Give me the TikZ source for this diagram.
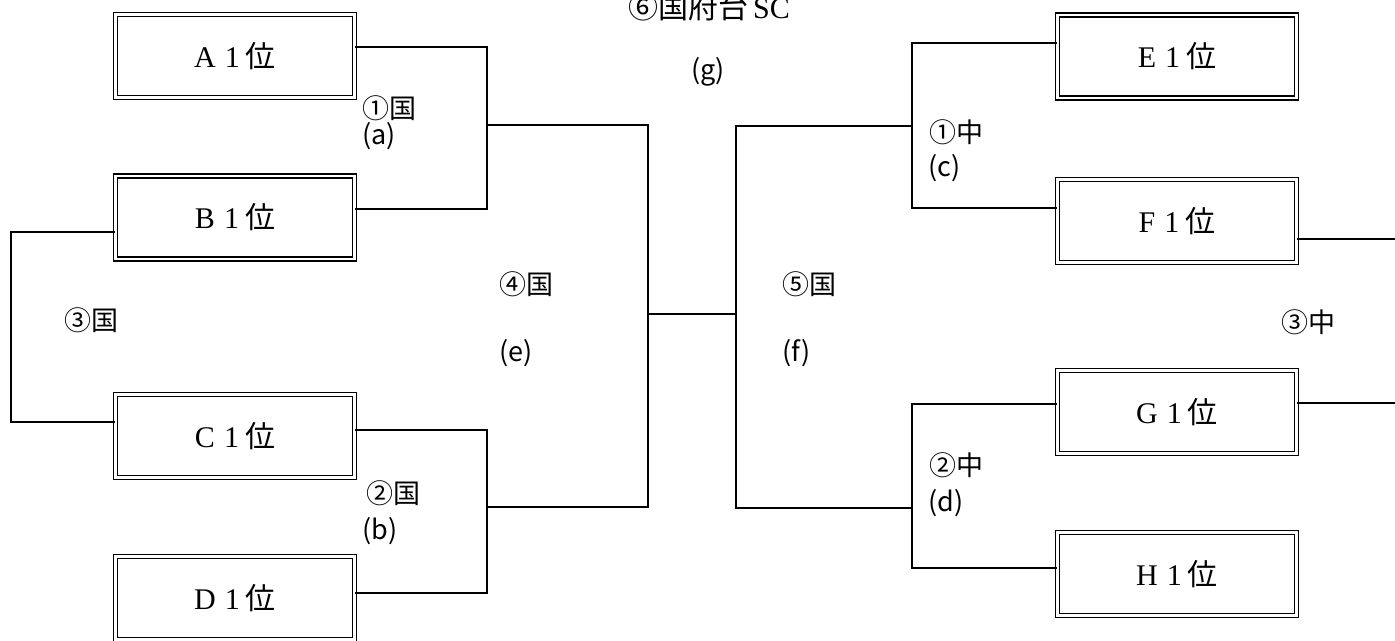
\documentclass[tikz,border=0pt]{standalone}
\usepackage{fontspec}
\setmainfont{Liberation Serif}
\newfontfamily\jp{Noto Sans CJK JP}
\begin{document}
\begin{tikzpicture}[x=1pt,y=-1pt,
  team/.style={draw, line width=1.5pt, double distance=2.2pt, minimum width=239pt, minimum height=83pt, inner sep=0pt, font=\fontsize{30}{32}\selectfont},
  link/.style={line width=1.1pt},
  lbl/.style={anchor=west, inner sep=0pt, font=\jp\fontsize{27}{29}\selectfont}]
\path[use as bounding box] (0,0) rectangle (1395,640);
\clip (0,0) rectangle (1395,640);
% teams
\node[team] (A) at (235,56) {A\hspace{0.3em}1\hspace{0.2em}{\jp 位}};
\node[team] (B) at (235,217.5) {B\hspace{0.3em}1\hspace{0.2em}{\jp 位}};
\node[team] (C) at (235,436) {C\hspace{0.3em}1\hspace{0.2em}{\jp 位}};
\node[team] (D) at (235,598) {D\hspace{0.3em}1\hspace{0.2em}{\jp 位}};
\node[team] (E) at (1177,56.5) {E\hspace{0.3em}1\hspace{0.2em}{\jp 位}};
\node[team] (F) at (1177,221) {F\hspace{0.3em}1\hspace{0.2em}{\jp 位}};
\node[team] (G) at (1177,412) {G\hspace{0.3em}1\hspace{0.2em}{\jp 位}};
\node[team] (H) at (1177,574) {H\hspace{0.3em}1\hspace{0.2em}{\jp 位}};
% bracket joints
\coordinate (qa) at (487,125);
\coordinate (qb) at (487,507);
\coordinate (qe) at (648,314);
\coordinate (qf) at (736,314);
\coordinate (qc) at (912,126);
\coordinate (qd) at (912,508);
\coordinate (q3l) at (11,327);
\coordinate (r3f) at (1400,239);
\coordinate (r3g) at (1400,403);
% connectors
\draw[link] ([yshift=9pt]A.east) -| (qa) |- ([yshift=8.5pt]B.east);
\draw[link] ([yshift=6pt]C.east) -| (qb) |- ([yshift=5pt]D.east);
\draw[link] (qa) -| (qe) |- (qb);
\draw[link] (qe) -- (qf);
\draw[link] (qc) -| (qf) |- (qd);
\draw[link] ([yshift=13.5pt]E.west) -| (qc) |- ([yshift=13pt]F.west);
\draw[link] ([yshift=8pt]G.west) -| (qd) |- ([yshift=6pt]H.west);
\draw[link] ([yshift=-14.5pt]B.west) -| (q3l) |- ([yshift=14pt]C.west);
\draw[link] ([yshift=-18pt]F.east) -- (r3f);
\draw[link] ([yshift=9pt]G.east) -- (r3g);
% labels
\node[anchor=base, inner sep=0pt, font=\fontsize{30}{32}\selectfont] (title) at (709,18) {{\jp ⑥国府台}\,SC};
\node[lbl, anchor=center] (lg) at (708,72) {(g)};
\node[lbl] (l1k) at (362,108) {①国};
\node[lbl] (la) at (362,136) {(a)};
\node[lbl] (l2k) at (366,493) {②国};
\node[lbl] (lb) at (362,531) {(b)};
\node[lbl] (l3k) at (64,320) {③国};
\node[lbl] (l4k) at (499,284) {④国};
\node[lbl] (le) at (499,353) {(e)};
\node[lbl] (l5k) at (782,284) {⑤国};
\node[lbl] (lf) at (782,353) {(f)};
\node[lbl] (l1c) at (929,132) {①中};
\node[lbl] (lc) at (928,168) {(c)};
\node[lbl] (l2c) at (929,465) {②中};
\node[lbl] (ld) at (928,503) {(d)};
\node[lbl] (l3c) at (1281,322) {③中};
\end{tikzpicture}
\end{document}
